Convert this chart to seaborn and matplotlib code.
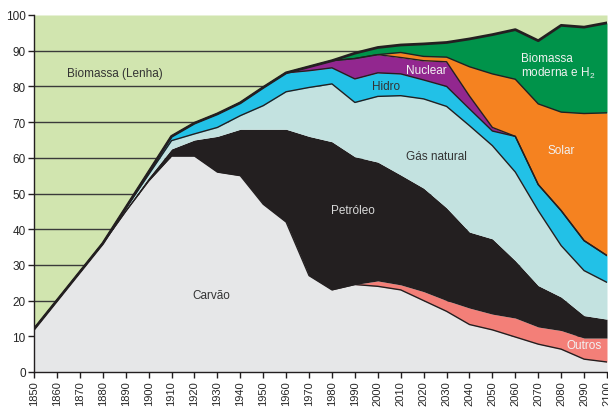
import numpy as np
import pandas as pd
import matplotlib
matplotlib.use("Agg")
import matplotlib.pyplot as plt
import seaborn as sns

# Participação (%) de cada fonte de energia, leitura do gráfico
anos = list(range(1850, 2101, 10))
carvao = [12, 20, 28, 36, 45, 53.5, 60.5, 60.5, 56, 55, 47, 42, 27, 23,
          24.5, 24, 23, 20, 17, 13.3, 11.8, 9.8, 7.8, 6.4, 3.6, 2.8]
outros = [0, 0, 0, 0, 0, 0, 0, 0, 0, 0, 0, 0, 0, 0,
          0, 1.5, 1.4, 2.5, 3, 4.6, 4.4, 5.3, 4.8, 5.2, 5.9, 6.7]
petroleo = [0, 0, 0, 0, 0.5, 1, 2, 4.5, 10, 13, 21, 26, 39, 41.5,
            35.8, 33.3, 30.8, 29, 26, 21.3, 21.1, 16.1, 11.6, 9.4, 6.3, 5.3]
gas = [0, 0, 0, 0, 0.3, 0.8, 2.3, 1.7, 2.5, 3.8, 6.6, 10.5, 13.7, 16.2,
       15.2, 18.4, 22.2, 25, 28.4, 29.8, 26.1, 24.8, 21, 14.4, 12.6, 10.3]
hidro = [0, 0, 0, 0, 0.2, 0.7, 1.2, 3, 3.8, 3.6, 5.1, 5.3, 4.7, 4.5,
         6.6, 6.6, 6.1, 5.3, 5.6, 4.7, 4.1, 10, 7.3, 9.8, 8.4, 7.5]
nuclear = [0, 0, 0, 0, 0, 0, 0, 0, 0, 0, 0, 0, 1.1, 2.0,
           5.7, 5.1, 4.6, 5.4, 6.9, 3.6, 1.0, 0, 0, 0, 0, 0]
solar = [0, 0, 0, 0, 0, 0, 0, 0, 0, 0, 0, 0, 0, 0,
         0, 0, 1.4, 1.2, 1.3, 8.2, 15, 16, 22.6, 27.6, 35.6, 40]
bio_moderna = [0, 0, 0, 0, 0, 0, 0, 0, 0, 0, 0, 0, 0, 0,
               1.5, 2.0, 2.1, 3.5, 4.1, 7.8, 11, 13.9, 17.7, 24.3, 24.2, 25.2]

fontes = [carvao, outros, petroleo, gas, hidro, nuclear, solar, bio_moderna]
cores = ["#e6e7e8", "#f37f78", "#231f20", "#c3e2e0", "#22c1e7",
         "#92278f", "#f58220", "#00934a"]

sns.set_theme(style="white")
plt.rcParams["font.family"] = ["Liberation Sans", "DejaVu Sans"]

df = pd.DataFrame(dict(zip(["carvao", "outros", "petroleo", "gas", "hidro",
                            "nuclear", "solar", "bio_moderna"], fontes)),
                  index=anos)
acumulado = df.cumsum(axis=1)
lenha = 100 - acumulado["bio_moderna"]

fig = plt.figure(figsize=(6.08, 4.10), dpi=100)
ax = fig.add_axes([34 / 608, 37 / 410, 573 / 608, 357 / 410])

polys = ax.stackplot(anos, *fontes, lenha, colors=cores + ["#d1e5af"],
                     linewidth=0)
polys[-1].set_zorder(0.2)
for p in polys[:-1]:
    p.set_zorder(2)

for v in range(10, 100, 10):
    ax.axhline(v, color="#3a3a3a", lw=1, zorder=1)

# linhas de contorno entre as camadas
linhas = pd.DataFrame({"ano": anos})
for col in ["carvao", "gas", "hidro", "nuclear", "solar"]:
    sns.lineplot(x=anos, y=acumulado[col].values, color="#231f20", lw=1,
                 ax=ax, zorder=3)
sns.lineplot(x=anos, y=acumulado["bio_moderna"].values, color="#231f20",
             lw=2, ax=ax, zorder=3)

ax.set_xlim(1850, 2100)
ax.set_ylim(0, 100)
ax.set_xticks(anos)
ax.set_xticklabels([str(a) for a in anos], rotation=90, fontsize=8)
ax.set_yticks(range(0, 101, 10))
ax.tick_params(axis="y", labelsize=8.5)
ax.tick_params(direction="out", length=4, width=1, color="#231f20",
               left=True, bottom=True, pad=2)
for lado in ["top", "right"]:
    ax.spines[lado].set_visible(False)
for lado in ["left", "bottom"]:
    ax.spines[lado].set_color("#231f20")
    ax.spines[lado].set_linewidth(1)

escuro = "#333333"
claro = "#f2f2f2"
ax.text(1885.3, 83.8, "Biomassa (Lenha)", ha="center", va="center",
        fontsize=8.5, color=escuro, zorder=5)
ax.text(1927.2, 21.6, "Carvão", ha="center", va="center", fontsize=8.5,
        color=escuro, zorder=5)
ax.text(1989.2, 45.4, "Petróleo", ha="center", va="center", fontsize=8.5,
        color="#d9d9d9", zorder=5)
ax.text(2025.4, 60.5, "Gás natural", ha="center", va="center", fontsize=8.5,
        color=escuro, zorder=5)
ax.text(2003.6, 80.1, "Hidro", ha="center", va="center", fontsize=8.5,
        color=escuro, zorder=5)
ax.text(2021, 84.6, "Nuclear", ha="center", va="center", fontsize=8.5,
        color=claro, zorder=5)
ax.text(2080, 62.2, "Solar", ha="center", va="center", fontsize=8.5,
        color=claro, zorder=5)
ax.text(2062.5, 85.7, "Biomassa\nmoderna e H$\\mathregular{_2}$", ha="left",
        va="center", fontsize=8.5, color=claro, linespacing=1.1, zorder=5)
ax.text(2090, 7.6, "Outros", ha="center", va="center", fontsize=8.5,
        color=claro, zorder=5)

fig.savefig("out.png", dpi=100)
